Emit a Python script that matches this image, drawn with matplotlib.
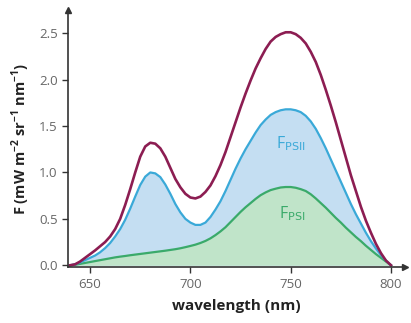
import matplotlib.pyplot as plt

plt.rcParams["font.family"] = ["Open Sans", "DejaVu Sans"]

# wavelength grid (nm), 2.5 nm steps
wl = [640.0 + 2.5 * i for i in range(65)]

# total fluorescence
f_total = [0.0, 0.01, 0.04, 0.08, 0.12, 0.16, 0.205, 0.25, 0.31, 0.39,
           0.50, 0.65, 0.82, 1.00, 1.17, 1.28, 1.32, 1.31, 1.26, 1.17,
           1.05, 0.93, 0.84, 0.77, 0.73, 0.72, 0.74, 0.79, 0.86, 0.96,
           1.08, 1.22, 1.38, 1.54, 1.70, 1.85, 1.99, 2.12, 2.23, 2.33,
           2.41, 2.46, 2.49, 2.51, 2.51, 2.49, 2.45, 2.39, 2.30, 2.19,
           2.05, 1.89, 1.72, 1.54, 1.35, 1.16, 0.97, 0.80, 0.63, 0.48,
           0.35, 0.23, 0.13, 0.05, 0.0]

# PSII fluorescence
f_psii = [0.0, 0.01, 0.03, 0.055, 0.08, 0.105, 0.14, 0.185, 0.24, 0.31,
          0.39, 0.49, 0.61, 0.74, 0.865, 0.955, 1.00, 0.99, 0.95, 0.87,
          0.77, 0.66, 0.57, 0.50, 0.46, 0.435, 0.435, 0.46, 0.52, 0.60,
          0.69, 0.80, 0.92, 1.04, 1.15, 1.25, 1.34, 1.43, 1.51, 1.57,
          1.62, 1.65, 1.67, 1.68, 1.68, 1.67, 1.65, 1.61, 1.55, 1.47,
          1.37, 1.26, 1.14, 1.02, 0.90, 0.78, 0.66, 0.55, 0.45, 0.35,
          0.26, 0.18, 0.11, 0.05, 0.0]

# PSI fluorescence
f_psi = [0.0, 0.005, 0.015, 0.025, 0.035, 0.045, 0.055, 0.065, 0.075, 0.085,
         0.093, 0.10, 0.108, 0.115, 0.122, 0.129, 0.136, 0.143, 0.15, 0.157,
         0.165, 0.173, 0.183, 0.195, 0.208, 0.222, 0.24, 0.262, 0.29, 0.325,
         0.365, 0.41, 0.465, 0.52, 0.575, 0.625, 0.67, 0.715, 0.755, 0.785,
         0.81, 0.825, 0.838, 0.843, 0.843, 0.835, 0.82, 0.80, 0.765, 0.72,
         0.67, 0.62, 0.565, 0.51, 0.46, 0.405, 0.355, 0.305, 0.26, 0.21,
         0.165, 0.12, 0.08, 0.04, 0.0]

xticks = [650, 700, 750, 800]
yticks = [0.0, 0.5, 1.0, 1.5, 2.0, 2.5]

c_total = "#8c1d52"
c_psii = "#3aa9d8"
c_psi = "#3aaa6a"

fig = plt.figure(figsize=(4.11, 3.23), dpi=100)
ax = fig.add_axes([0.1655, 0.173, 0.82, 0.796])

ax.fill_between(wl, 0, f_psii, color="#c4def2", lw=0)
ax.fill_between(wl, 0, f_psi, color="#c0e4c9", lw=0)
ax.plot(wl, f_psi, color=c_psi, lw=1.6, solid_joinstyle="round")
ax.plot(wl, f_psii, color=c_psii, lw=1.6, solid_joinstyle="round")
ax.plot(wl, f_total, color=c_total, lw=1.9, solid_joinstyle="round")

ax.text(750, 1.31, r"F$_{\mathrm{PSII}}$", color=c_psii, fontsize=11.5,
        ha="center", va="center")
ax.text(751, 0.56, r"F$_{\mathrm{PSI}}$", color=c_psi, fontsize=11.5,
        ha="center", va="center")

ax.set_xlim(639, 807)
ax.set_ylim(-0.02, 2.75)
ax.set_xticks(xticks)
ax.set_yticks(yticks)
ax.set_yticklabels([f"{v:.1f}" for v in yticks])

for s in ["top", "right"]:
    ax.spines[s].set_visible(False)
for s in ["left", "bottom"]:
    ax.spines[s].set_color("#333333")
    ax.spines[s].set_linewidth(1.2)

ax.tick_params(colors="#333333", labelcolor="#666666", labelsize=9.5,
               direction="out", length=4, width=1)

# arrow heads on axes
ax.plot(1, -0.02, ">", color="#333333", ms=4, transform=ax.get_yaxis_transform(), clip_on=False)
ax.plot(639, 1, "^", color="#333333", ms=4, transform=ax.get_xaxis_transform(), clip_on=False)

ax.set_xlabel("wavelength (nm)", fontsize=11, fontweight="bold", color="#222222", labelpad=6)
ax.set_ylabel(r"F (mW m$^{\mathregular{-2}}$ sr$^{\mathregular{-1}}$ nm$^{\mathregular{-1}}$)",
              fontsize=10.5, fontweight="bold", color="#222222", labelpad=5)

plt.savefig("out.png", dpi=100)
